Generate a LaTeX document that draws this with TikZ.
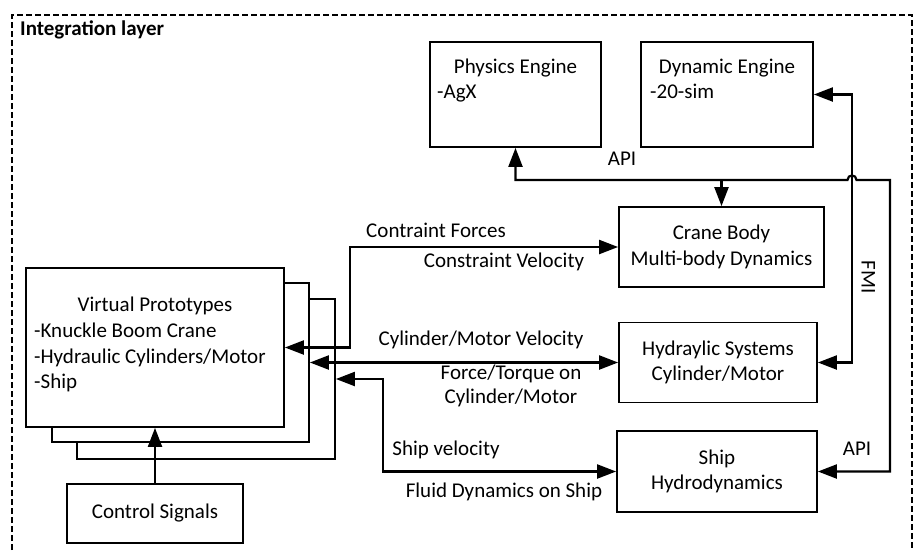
\documentclass[tikz,border=0pt]{standalone}
\usepackage{fontspec}
\setmainfont{Carlito}
\usetikzlibrary{arrows.meta}
\begin{document}
\begin{tikzpicture}[x=1pt,y=-1pt,
  >={Triangle[length=19pt,width=14pt]},
  box/.style={draw,line width=1.8pt,fill=white,inner sep=0pt,align=center},
  conn/.style={line width=2.2pt},
  lbl/.style={inner sep=0pt,anchor=mid},
  every node/.style={font=\fontsize{21}{25.5}\selectfont}]
\useasboundingbox (0,0) rectangle (914,550);
\draw[line width=1.8pt,dash pattern=on 6pt off 3pt] (12,550) -- (12,15) -- (912,15) -- (912,550);
\node[lbl,anchor=mid west,font=\fontsize{21}{25.5}\selectfont\bfseries] (title) at (20,33) {Integration layer};

% engines
\node[box,minimum width=171pt,minimum height=105pt] (phys) at (515.5,94.5) {};
\node[lbl] (physT) at (515.5,71) {Physics Engine};
\node[lbl,anchor=mid west] (physS) at (437,96) {-AgX};
\node[box,minimum width=172pt,minimum height=105pt] (dyn) at (727,94.5) {};
\node[lbl] (dynT) at (727,71) {Dynamic Engine};
\node[lbl,anchor=mid west] (dynS) at (650,96) {-20-sim};

% subsystems
\node[box,minimum width=205pt,minimum height=80pt] (crane) at (721.5,247) {Crane Body\\Multi-body Dynamics};
\node[box,minimum width=198pt,minimum height=80pt] (hyd) at (718,362.5) {Hydraylic Systems\\Cylinder/Motor};
\node[box,minimum width=200pt,minimum height=81pt] (ship) at (717,471.5) {Ship\\Hydrodynamics};

% virtual prototypes stack
\node[box,minimum width=258pt,minimum height=160pt] (vp3) at (206,379) {};
\node[box,minimum width=257pt,minimum height=159pt] (vp2) at (180.5,362.5) {};
\node[box,minimum width=258pt,minimum height=159pt] (vp1) at (155,347.5) {};
\node[lbl] (vpT) at (155,309) {Virtual Prototypes};
\node[lbl,anchor=mid west] (vpA) at (34,335) {-Knuckle Boom Crane};
\node[lbl,anchor=mid west] (vpB) at (34,361) {-Hydraulic Cylinders/Motor};
\node[lbl,anchor=mid west] (vpC) at (34,386) {-Ship};

\node[box,minimum width=176pt,minimum height=59pt] (ctrl) at (155,513.5) {Control Signals};

% connectors
\draw[conn,->] (ctrl.north) -- (vp1.south);
\draw[conn,<->] (vp1.east) -- (350,347.5) |- (crane.west);
\draw[conn,<->] (vp2.east) -- (hyd.west);
\draw[conn,<->] (vp3.east) -- (383,379) |- (ship.west);

\coordinate (apiL) at (phys.south |- 0,180);
\coordinate (apiR) at (890,180);
\draw[conn,<->] (phys.south) -- (apiL) -- (847.5,180) .. controls (847.5,174) and (856.5,174) .. (856.5,180) -- (apiR) |- (ship.east);
\draw[conn,->] (crane.north |- apiL) -- (crane.north);
\draw[conn,<->] (dyn.east) -- (852,94.5) -- (852,362.5) -- (hyd.east);

% labels
\node[lbl] (l1) at (436,235) {Contraint Forces};
\node[lbl] (l2) at (504,265) {Constraint Velocity};
\node[lbl] (l3) at (481,343) {Cylinder/Motor Velocity};
\node[lbl,anchor=center,align=center,font=\fontsize{21}{24}\selectfont] (l4) at (511,386) {Force/Torque on\\Cylinder/Motor};
\node[lbl] (l5) at (446,453) {Ship velocity};
\node[lbl] (l6) at (504,495) {Fluid Dynamics on Ship};
\node[lbl] (api1) at (622,163) {API};
\node[lbl] (api2) at (857,453) {API};
\node[lbl,rotate=-90] (fmi) at (864,277) {FMI};
\end{tikzpicture}
\end{document}
